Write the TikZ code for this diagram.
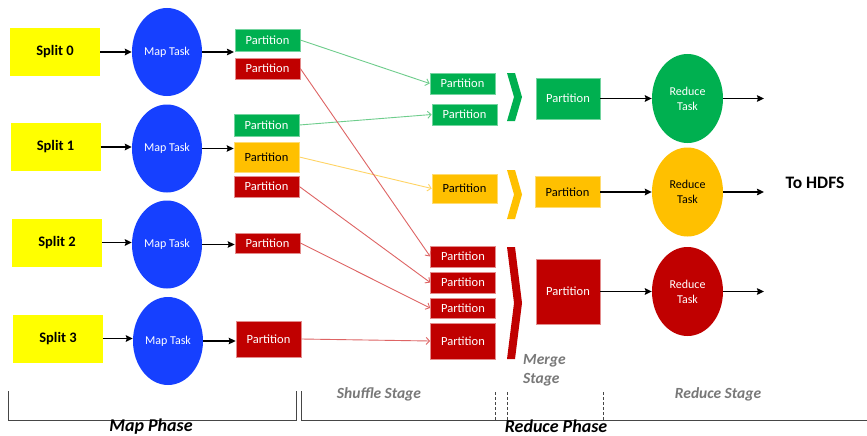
\documentclass[tikz,border=0pt]{standalone}
\usepackage{fontspec}
\setmainfont{Carlito}
\usetikzlibrary{arrows.meta,shapes.geometric}

\definecolor{mapblue}{RGB}{22,64,255}
\definecolor{pgreen}{RGB}{0,176,80}
\definecolor{pamber}{RGB}{255,192,0}
\definecolor{pred}{RGB}{192,0,0}
\definecolor{splityellow}{RGB}{255,255,0}
\definecolor{stagegray}{RGB}{120,120,120}
\definecolor{linkgreen}{RGB}{110,205,140}
\definecolor{linkamber}{RGB}{255,212,100}
\definecolor{linkred}{RGB}{222,100,100}
\definecolor{framegray}{RGB}{70,70,70}

\begin{document}
\begin{tikzpicture}[x=1pt,y=-1pt,
  split/.style={rectangle, fill=splityellow, minimum width=90pt, minimum height=48pt,
    inner sep=0pt, font=\fontsize{14.5}{16}\selectfont\bfseries},
  maptask/.style={ellipse, fill=mapblue, minimum width=70pt, minimum height=88pt,
    inner sep=0pt, text=white, font=\fontsize{12}{13}\selectfont},
  redtask/.style={ellipse, minimum width=71pt, minimum height=89pt, inner sep=0pt,
    align=center, font=\fontsize{12}{15}\selectfont},
  part/.style={rectangle, inner sep=0pt, minimum width=65pt, line width=0.6pt,
    font=\fontsize{12.5}{14}\selectfont},
  gpart/.style={part, fill=pgreen, draw=pgreen!55!white, text=white},
  ypart/.style={part, fill=pamber, draw=pamber!55!white, text=black},
  rpart/.style={part, fill=pred, draw=pred!45!white, text=white},
  flow/.style={draw=black, line width=1.8pt, -{Stealth[length=7pt,width=6.5pt,inset=1pt]}},
  link/.style={draw=#1, line width=0.9pt, -{Straight Barb[length=3.5pt,width=7pt]}},
  frame/.style={draw=framegray, line width=1pt},
  splitframe/.style={draw=framegray, line width=0.8pt, dash pattern=on 3pt off 2pt},
  phase/.style={font=\fontsize{18}{20}\selectfont\bfseries\itshape, text=black},
  stagelabel/.style={font=\fontsize{15.5}{19}\selectfont\bfseries\itshape, text=stagegray}
]
\useasboundingbox (0,0) rectangle (867,436);
\fill[white] (0,0) rectangle (867,436);

% input splits
\node[split] (s0) at (55,52) {Split 0};
\node[split] (s1) at (55.5,147) {Split 1};
\node[split] (s2) at (57,242.5) {Split 2};
\node[split] (s3) at (58,338.5) {Split 3};

% map tasks
\node[maptask] (m0) at (167,52) {Map Task};
\node[maptask] (m1) at (167,148.5) {Map Task};
\node[maptask] (m2) at (167,244.5) {Map Task};
\node[maptask] (m3) at (168,341) {Map Task};

% map output partitions
\node[gpart, minimum height=22pt] (p0g) at (267.5,40) {Partition};
\node[rpart, minimum height=21pt] (p0r) at (267.5,68.5) {Partition};
\node[gpart, minimum height=22pt] (p1g) at (266.5,125) {Partition};
\node[ypart, minimum height=30pt] (p1y) at (266.5,157) {Partition};
\node[rpart, minimum height=21pt] (p1r) at (266.5,186.5) {Partition};
\node[rpart, minimum height=20pt] (p2r) at (267.5,243) {Partition};
\node[rpart, minimum height=36pt] (p3r) at (268.5,339) {Partition};

% shuffled partitions
\node[gpart, minimum height=21pt] (q0g) at (462.5,83.5) {Partition};
\node[gpart, minimum height=21pt] (q1g) at (464.5,114.5) {Partition};
\node[ypart, minimum height=29pt] (q1y) at (464.5,188.5) {Partition};
\node[rpart, minimum height=21pt] (q0r) at (463,256.5) {Partition};
\node[rpart, minimum height=21pt] (q1r) at (463,282.5) {Partition};
\node[rpart, minimum height=20pt] (q2r) at (463,308) {Partition};
\node[rpart, minimum height=36pt] (q3r) at (463,341) {Partition};

% merge chevrons
\fill[pgreen] (507,73) -- (515,73) -- (522,97) -- (515,121) -- (507,121) -- (514,97) -- cycle;
\fill[pamber] (507,170) -- (515,170) -- (522,194.5) -- (515,219) -- (507,219) -- (514,194.5) -- cycle;
\fill[pred] (507,247) -- (515,247) -- (522,303) -- (515,359) -- (507,359) -- (514,303) -- cycle;

% merged partitions
\node[gpart, minimum width=64pt, minimum height=41pt] (mg) at (568,98.5) {Partition};
\node[ypart, minimum height=31pt] (my) at (567.5,192) {Partition};
\node[rpart, minimum width=64pt, minimum height=65pt] (mr) at (568,291.5) {Partition};

% reduce tasks
\node[redtask, fill=pgreen, text=white] (rg) at (687.5,98.5) {Reduce\\Task};
\node[redtask, fill=pamber, text=black] (ry) at (687.5,192) {Reduce\\Task};
\node[redtask, fill=pred, text=white] (rr) at (687.5,291.5) {Reduce\\Task};

% output targets
\coordinate (c0) at (234,52);
\coordinate (og) at (764,98.5);
\coordinate (oy) at (764,192);
\coordinate (or) at (764,291.5);
\node[font=\fontsize{17.5}{20}\selectfont\bfseries] (hdfs) at (815,183) {To HDFS};

% split -> map -> partitions
\draw[flow] (s0) -- (m0);
\draw[flow] (s1.east) -- (s1.east -| m1.west);
\draw[flow] (s2.east) -- (s2.east -| m2.west);
\draw[flow] (s3.east) -- (s3.east -| m3.west);
\draw[flow] (m0.east) -- (c0);
\draw[flow] (m1.east) -- (m1.east -| p1y.west);
\draw[flow] (m2.east) -- (m2.east -| p2r.west);
\draw[flow] (m3.east) -- (m3.east -| p3r.west);

% shuffle links
\draw[link=linkgreen] (p0g.east) -- (q0g.west);
\draw[link=linkgreen] (p1g.east) -- (q1g.west);
\draw[link=linkamber] (p1y.east) -- (q1y.west);
\draw[link=linkred] (p0r.east) -- (q0r.west);
\draw[link=linkred] (p1r.east) -- (q1r.west);
\draw[link=linkred] (p2r.east) -- (q2r.west);
\draw[link=linkred] (p3r.east) -- (q3r.west);

% merged -> reduce -> output
\draw[flow] (mg) -- (rg);
\draw[flow] (my) -- (ry);
\draw[flow] (mr) -- (rr);
\draw[flow] (rg.east) -- (og);
\draw[flow] (ry.east) -- (oy);
\draw[flow] (rr.east) -- (or);

% phase brackets
\draw[frame] (8,391) -- (8,420.5) -- (296,420.5) -- (296,391);
\draw[frame] (301,391) -- (301,420.5) -- (867,420.5);
\draw[splitframe] (495,392) -- (495,420);
\draw[splitframe] (507,392) -- (507,420);
\draw[splitframe] (603,392) -- (603,420);

% phase and stage labels
\node[phase] (mapphase) at (151,426.5) {Map Phase};
\node[phase] (redphase) at (556,426.5) {Reduce Phase};
\node[stagelabel] (shuffle) at (379,394) {Shuffle Stage};
\node[stagelabel, align=left, anchor=north west, inner sep=0pt] (merge) at (523,354) {Merge\\Stage};
\node[stagelabel] (reducestage) at (718,394) {Reduce Stage};
\end{tikzpicture}
\end{document}
